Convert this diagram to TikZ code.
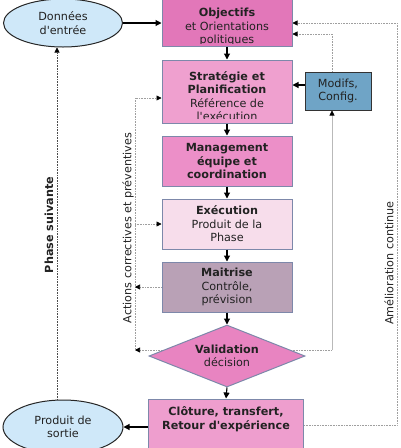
\documentclass[tikz,border=0pt]{standalone}
\usepackage{fontspec}
\setmainfont{DejaVu Sans}[Ligatures=TeXOff]
\usetikzlibrary{shapes.geometric,arrows.meta,backgrounds}
\definecolor{cObj}{HTML}{E277B9}
\definecolor{cStr}{HTML}{EFA0CF}
\definecolor{cMan}{HTML}{EC8FC8}
\definecolor{cExe}{HTML}{F7DDEB}
\definecolor{cMai}{HTML}{B9A1B6}
\definecolor{cVal}{HTML}{E884C1}
\definecolor{cClo}{HTML}{EE9ECE}
\definecolor{cMod}{HTML}{6FA4C6}
\definecolor{cEll}{HTML}{CFE8F9}
\definecolor{cBrd}{HTML}{7D88AA}
\definecolor{cTxt}{HTML}{222222}
\begin{document}
\begin{tikzpicture}[x=1pt,y=-1pt,
  font=\fontsize{11.2}{13.5}\selectfont, text=cTxt,
  box/.style={draw=cBrd, line width=1pt, rectangle, inner sep=0pt, align=center},
  ell/.style={draw=black!85, line width=1pt, ellipse, inner sep=0pt, fill=cEll, align=center},
  arr/.style={line width=1.1pt, -{Triangle[length=6pt,width=6pt]}},
  fb/.style={draw=gray!75, line width=0.6pt, densely dotted, -{Triangle[length=5pt,width=5pt,color=black]}},
  fbn/.style={draw=gray!75, line width=0.6pt, densely dotted},
  lab/.style={rotate=90, inner sep=0pt}
]
\useasboundingbox (0,0) rectangle (400,448);

% nodes
\node[ell, minimum width=119pt, minimum height=48pt] (don) at (63,23) {Données\\d'entrée};
\node[box, fill=cObj, minimum width=130pt, minimum height=50pt] (obj) at (227,21) {};
\begin{scope}
  \clip (162,-3) rectangle (292,43);
  \node[align=center, inner sep=0pt] (objt) at (227,27) {\textbf{Objectifs}\\et Orientations\\politiques};
\end{scope}
\node[box, fill=cStr, minimum width=130pt, minimum height=63pt] (str) at (227,91.5) {};
\begin{scope}
  \clip (162,60) rectangle (292,118);
  \node[align=center, inner sep=0pt] (strt) at (227,96) {\textbf{Stratégie et}\\\textbf{Planification}\\Référence de\\l'exécution};
\end{scope}
\node[box, fill=cMod, draw=black!80, minimum width=66pt, minimum height=38pt] (mod) at (338,91) {Modifs,\\Config.};
\node[box, fill=cMan, minimum width=130pt, minimum height=50pt, font=\fontsize{11.2}{13.5}\selectfont\bfseries] (man) at (227,161) {Management\\équipe et\\coordination};
\node[box, fill=cExe, minimum width=130pt, minimum height=50pt] (exe) at (227,224) {\textbf{Exécution}\\Produit de la\\Phase};
\node[box, fill=cMai, minimum width=130pt, minimum height=50pt] (mai) at (227,287) {\textbf{Maitrise}\\Contrôle,\\prévision};
\node[draw=cBrd, line width=1pt, diamond, aspect=2.5, inner sep=0pt, fill=cVal, minimum width=156pt, minimum height=62pt, align=center] (val) at (227,356) {\textbf{Validation}\\décision};
\node[box, fill=cClo, minimum width=155pt, minimum height=56pt, font=\fontsize{11.2}{13.5}\selectfont\bfseries] (clo) at (226,427) {Clôture, transfert,\\Retour d'expérience\\[4pt]};
\node[ell, minimum width=120pt, minimum height=54pt] (out) at (63,427) {Produit de\\sortie};

% coordinates
\coordinate (ph) at (57,0);
\coordinate (ac) at (135,0);
\coordinate (acT) at (135,98);
\coordinate (acB) at (135,350);
\coordinate (mR) at (332,350);
\coordinate (mx) at (332,0);
\coordinate (mTop) at (332,34);
\coordinate (aB) at (397,425);
\coordinate (aT) at (397,23);

% labels
\node[lab] (lAct) at (128,228) {Actions correctives et préventives};
\node[lab, font=\fontsize{11.2}{13.5}\selectfont\bfseries] (lPh) at (49,225) {Phase suivante};
\node[lab] (lAm) at (389,263) {Amélioration continue};

% main arrows
\draw[arr] (don.east) -- (don.east -| obj.west);
\draw[arr] (obj.south) -- (str.north);
\draw[arr] (str.south) -- (man.north);
\draw[arr] (man.south) -- (exe.north);
\draw[arr] (exe.south) -- (mai.north);
\draw[arr] (mai.south) -- (val.north);
\draw[arr] (val.south) -- (clo.north);
\draw[arr] (clo.west |- out.east) -- (out.east);
\draw[arr] (mod.west |- 0,85) -- (str.east |- 0,85);

% feedback lines
\begin{pgfonlayer}{background}
  \draw[fb] (clo.east |- aB) -- (aB) -- (aT) -- (obj.east |- aT);
  \draw[fb] (mod.north -| mx) -- (mTop) -- (obj.east |- mTop);
  \draw[fb] (val.center |- acB) -- (acB);
  \draw[fbn] (val.center |- mR) -- (mR);
  \draw[draw=gray!55, line width=0.6pt, -{Triangle[length=5pt,width=5pt,color=black]}] (mR) -- (mod.south -| mx);
  \draw[fb] (acB) -- (acT) -- (str.west |- acT);
  \draw[fb] (ac |- exe.west) -- (exe.west);
  \draw[fb] (mai.west) -- (ac |- mai.west);
  \draw[fb, draw=black!70] (out.north -| ph) -- (don.south -| ph);
\end{pgfonlayer}
\end{tikzpicture}
\end{document}
